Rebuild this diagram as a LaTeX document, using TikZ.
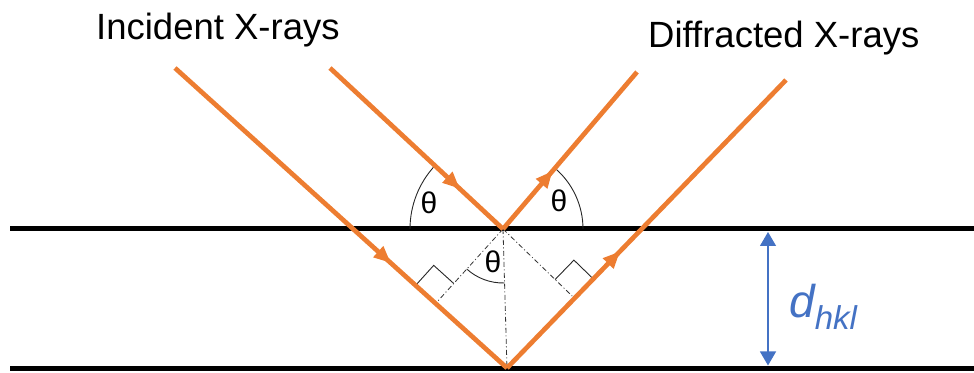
\documentclass[tikz,border=0pt]{standalone}
\usepackage{fontspec}
\setmainfont{Liberation Sans}
\usetikzlibrary{calc,arrows.meta,decorations.markings}
\definecolor{xorange}{HTML}{ED7D31}
\definecolor{xblue}{HTML}{4472C4}
\begin{document}
\begin{tikzpicture}[x=1pt,y=1pt,
  plane/.style={line width=5pt,black},
  ray/.style={line width=4.7pt,xorange,
    decoration={markings,mark=at position #1 with {\arrow{Triangle[length=17pt,width=14pt]}}},
    postaction={decorate}},
  guide/.style={line width=0.8pt,black!80,dash pattern=on 5pt off 2.5pt on 1pt off 2.5pt},
  anglearc/.style={line width=0.9pt,black!85},
  theta/.style={font=\fontsize{30}{30}\selectfont,inner sep=0pt},
  title/.style={font=\fontsize{36.5}{40}\selectfont,anchor=base west,inner sep=0pt},
  dim/.style={xblue,line width=1.2pt,{Triangle[length=14pt,width=16pt]}-{Triangle[length=14pt,width=16pt]}},
  ]
\useasboundingbox (0,0) rectangle (974,372);
% key points
\coordinate (T) at (503,143);
\coordinate (B) at (507,4);
\coordinate (A1) at (175,304);
\coordinate (A2) at (330,304);
\coordinate (C1) at (637,300);
\coordinate (C2) at (786,292);
\coordinate (L1) at (10,143);
\coordinate (R1) at (974,143);
\coordinate (L2) at (10,4);
\coordinate (R2) at (974,4);
\coordinate (F1) at ($(A1)!(T)!(B)$);
\coordinate (F2) at ($(B)!(T)!(C2)$);
\coordinate (D1) at (768,140);
\coordinate (D2) at (768,6.5);
% planes
\draw[plane] (L1) -- (R1);
\draw[plane] (L2) -- (R2);
% guides
\draw[guide] (T) -- (B);
\draw[guide] (T) -- (F1);
\draw[guide] (T) -- (F2);
% right-angle marks
\coordinate (F1a) at ($(F1)!27pt!(A1)$);
\coordinate (F1b) at ($(F1)!27pt!(T)$);
\draw[anglearc] (F1a) -- ($(F1a)+(F1b)-(F1)$) -- (F1b);
\coordinate (F2a) at ($(F2)!27pt!(C2)$);
\coordinate (F2b) at ($(F2)!27pt!(T)$);
\draw[anglearc] (F2a) -- ($(F2a)+(F2b)-(F2)$) -- (F2b);
% angle arcs
\draw[anglearc] ($(T)+(137.2:93)$) arc[start angle=137.2,end angle=180,radius=93];
\draw[anglearc] ($(T)+(0:80)$) arc[start angle=0,end angle=49.3,radius=80];
\draw[anglearc] ($(T)+(227.8:54)$) arc[start angle=227.8,end angle=271.6,radius=54];
% rays
\draw[ray=0.75] (A2) -- (T);
\draw[ray=0.65] (A1) -- (B);
\draw[ray=0.37] (T) -- (C1);
\draw[ray=0.405] (B) -- (C2);
% dimension
\draw[dim] (D1) -- (D2);
% labels
\node[theta] (th1) at (429,169) {θ};
\node[theta] (th2) at (559,171) {θ};
\node[theta] (th3) at (493,110) {θ};
\node[title] (inc) at (96,332) {Incident X-rays};
\node[title] (dif) at (648,324) {Diffracted X-rays};
\node[anchor=base west,inner sep=0pt,text=xblue,font=\itshape] (dh) at (789,54)
  {{\fontsize{46}{46}\selectfont d}\raisebox{-12pt}{\fontsize{33}{33}\selectfont hkl}};
\end{tikzpicture}
\end{document}
